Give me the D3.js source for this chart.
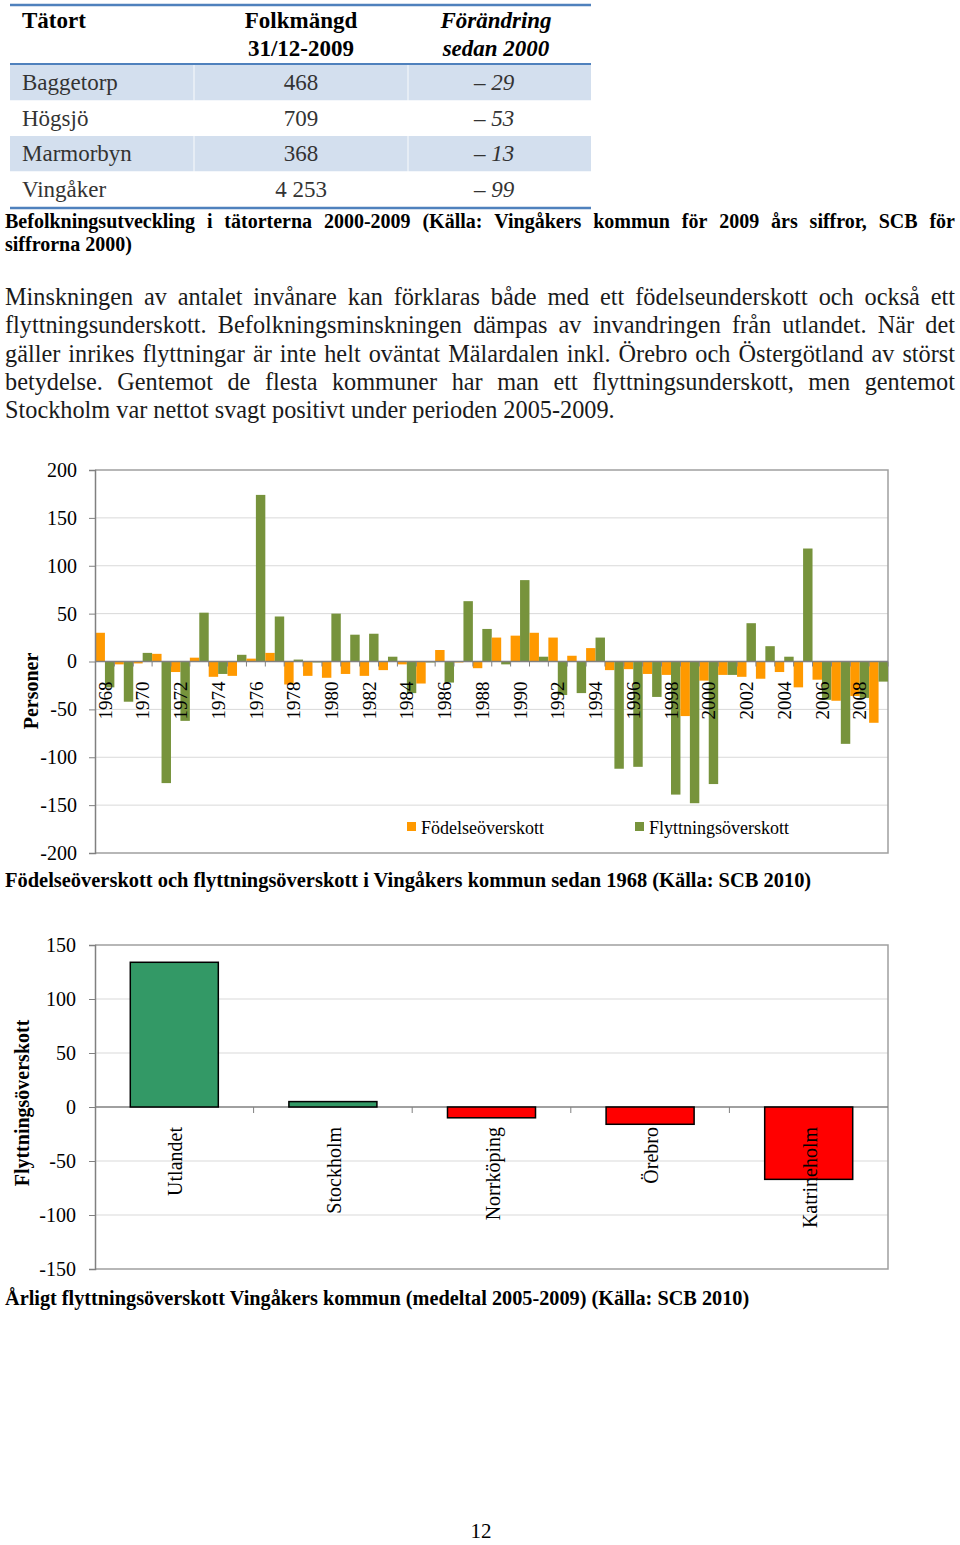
<!DOCTYPE html>
<html><head><meta charset="utf-8">
<script src="https://cdn.jsdelivr.net/npm/d3@7"></script>
<style>body{margin:0;background:#fff} svg{display:block}</style>
</head><body>
<svg id="page" width="960" height="1545"></svg>
<script>
// ---------- DATA ----------
const tableHeaders = [["Tätort"], ["Folkmängd", "31/12-2009"], ["Förändring", "sedan 2000"]];
const tableTowns = ["Baggetorp", "Högsjö", "Marmorbyn", "Vingåker"];
const tablePop = ["468", "709", "368", "4 253"];
const tableChange = ["– 29", "– 53", "– 13", "– 99"];
const tableCaption = ["Befolkningsutveckling i tätorterna 2000-2009 (Källa: Vingåkers kommun för 2009 års siffror, SCB för", "siffrorna 2000)"];
const bodyLines = [
  "Minskningen av antalet invånare kan förklaras både med ett födelseunderskott och också ett",
  "flyttningsunderskott. Befolkningsminskningen dämpas av invandringen från utlandet. När det",
  "gäller inrikes flyttningar är inte helt oväntat Mälardalen inkl. Örebro och Östergötland av störst",
  "betydelse. Gentemot de flesta kommuner har man ett flyttningsunderskott, men gentemot",
  "Stockholm var nettot svagt positivt under perioden 2005-2009."
];
const years = ["1968","1969","1970","1971","1972","1973","1974","1975","1976","1977","1978","1979","1980","1981","1982","1983","1984","1985","1986","1987","1988","1989","1990","1991","1992","1993","1994","1995","1996","1997","1998","1999","2000","2001","2002","2003","2004","2005","2006","2007","2008","2009"];
const birthSurplus = [30,-3,-2,8,-11,4,-16,-15,3,9,-24,-15,-17,-13,-15,-9,-3,-23,12,-1,-7,25,27,30,25,6,14,-9,-8,-13,-14,-57,-20,-14,-16,-18,-11,-27,-19,-41,-36,-64];
const migrationSurplus = [-27,-42,9,-127,-62,51,-13,7,174,47,2,-1,50,28,29,5,-33,-1,-22,63,34,-3,85,5,-35,-33,25,-112,-110,-37,-139,-148,-128,-14,40,16,5,118,-40,-86,-38,-21];
const yearLabels = ["1968","1970","1972","1974","1976","1978","1980","1982","1984","1986","1988","1990","1992","1994","1996","1998","2000","2002","2004","2006","2008"];
const series1 = ["Födelseöverskott", "Flyttningsöverskott"];
const chart1Ticks = [-200,-150,-100,-50,0,50,100,150,200];
const chart1Title = "Personer";
const chart1Caption = "Födelseöverskott och flyttningsöverskott i Vingåkers kommun sedan 1968 (Källa: SCB 2010)";
const destinations = ["Utlandet", "Stockholm", "Norrköping", "Örebro", "Katrineholm"];
const destValues = [134, 5, -10, -16, -67];
const chart2Ticks = [-150,-100,-50,0,50,100,150];
const chart2Title = "Flyttningsöverskott";
const chart2Caption = "Årligt flyttningsöverskott Vingåkers kommun (medeltal 2005-2009) (Källa: SCB 2010)";
const pageNumber = "12";

// ---------- HELPERS ----------
const SERIF = '"Liberation Serif", "Times New Roman", serif';
const svg = d3.select("#page");
const meas = svg.append("text").attr("x", -1000).attr("y", -1000).style("font-family", SERIF);
function measure(str, size, weight = "normal", style = "normal") {
  meas.style("font-size", size + "px").style("font-weight", weight).style("font-style", style).text(str);
  return meas.node().getComputedTextLength();
}
function fitSize(str, target, weight = "normal", style = "normal") {
  return 20 * target / measure(str, 20, weight, style);
}
function justify(g, str, x0, x1, y, size, weight = "normal", fill = "#000") {
  const words = str.split(" ");
  const widths = words.map(w => measure(w, size, weight));
  const gap = (x1 - x0 - d3.sum(widths)) / (words.length - 1);
  const t = g.append("text").attr("y", y).style("font-family", SERIF)
    .style("font-size", size + "px").style("font-weight", weight).attr("fill", fill);
  let x = x0;
  words.forEach((w, i) => { t.append("tspan").attr("x", x).text(w); x += widths[i] + gap; });
}
function plain(g, str, x, y, size, opts = {}) {
  return g.append("text").attr("x", x).attr("y", y).style("font-family", SERIF)
    .style("font-size", size + "px").style("font-weight", opts.weight || "normal")
    .style("font-style", opts.style || "normal").attr("text-anchor", opts.anchor || "start")
    .attr("fill", opts.fill || "#000").text(str);
}
const fmt = d => String(d);

// ---------- TABLE ----------
const tbl = svg.append("g");
const tblX0 = 10, tblX1 = 591;
const rowY = d3.scaleBand().domain(d3.range(tableTowns.length)).range([65, 207]).padding(0);
tbl.selectAll("rect.band").data(tableTowns).join("rect")
  .attr("x", tblX0).attr("width", tblX1 - tblX0)
  .attr("y", (d, i) => rowY(i)).attr("height", rowY.bandwidth())
  .attr("fill", (d, i) => i % 2 === 0 ? "#D3DFEE" : "#fff");
[194, 408].forEach(x => tbl.append("line").attr("x1", x).attr("x2", x).attr("y1", 65).attr("y2", 207)
  .attr("stroke", "#fff").attr("stroke-width", 1.5).attr("opacity", 0.6));
[[5, 2.5], [64, 2], [208, 2.5]].forEach(([y, w]) => tbl.append("line")
  .attr("x1", tblX0).attr("x2", tblX1).attr("y1", y).attr("y2", y)
  .attr("stroke", "#4F81BD").attr("stroke-width", w));
plain(tbl, tableHeaders[0][0], 22, 28, 23, { weight: "bold" });
plain(tbl, tableHeaders[1][0], 301, 28, 23, { weight: "bold", anchor: "middle" });
plain(tbl, tableHeaders[1][1], 301, 56, 23, { weight: "bold", anchor: "middle" });
plain(tbl, tableHeaders[2][0], 496, 28, 23, { weight: "bold", style: "italic", anchor: "middle" });
plain(tbl, tableHeaders[2][1], 496, 56, 23, { weight: "bold", style: "italic", anchor: "middle" });
tableTowns.forEach((t, i) => {
  const by = rowY(i) + rowY.bandwidth() / 2 + 7.5;
  plain(tbl, t, 22, by, 23, { fill: "#333" });
  plain(tbl, tablePop[i], 301, by, 23, { anchor: "middle", fill: "#333" });
  plain(tbl, tableChange[i], 494, by, 23, { anchor: "middle", style: "italic", fill: "#333" });
});

// table caption
const capSize = Math.min(20, fitSize("Befolkningsutveckling", 196, "bold"));
justify(svg, tableCaption[0], 5, 955, 228, capSize, "bold");
plain(svg, tableCaption[1], 5, 251, capSize, { weight: "bold" });

// ---------- BODY TEXT ----------
let bodySize = fitSize(bodyLines[4], 610);
const maxNat = d3.max(bodyLines.slice(0, 4), l => measure(l, bodySize));
if (maxNat > 945) bodySize *= 945 / maxNat;
const bodyY = [305, 333, 362, 390, 418];
bodyLines.forEach((l, i) => {
  if (i < bodyLines.length - 1) justify(svg, l, 5, 955, bodyY[i], bodySize, "normal", "#1a1a1a");
  else plain(svg, l, 5, bodyY[i], bodySize, { fill: "#1a1a1a" });
});

// ---------- CHART 1 ----------
(function () {
  const g = svg.append("g");
  const X0 = 95, X1 = 888, YT = 470, YB = 853;
  const x = d3.scaleBand().domain(years).range([X0 + 0.5, X1]).padding(0);
  const xs = d3.scaleBand().domain(series1).range([0, x.bandwidth()]).padding(0);
  const y = d3.scaleLinear().domain([-200, 200]).range([YB, YT]);
  const colors = { "Födelseöverskott": "#FF9900", "Flyttningsöverskott": "#77933C" };

  g.selectAll("line.grid").data(chart1Ticks.filter(t => t !== 0 && t !== -200 && t !== 200)).join("line")
    .attr("x1", X0).attr("x2", X1).attr("y1", d => y(d)).attr("y2", d => y(d))
    .attr("stroke", "#D9D9D9").attr("stroke-width", 1);
  g.append("path").attr("d", `M${X0},${YT}H${X1}V${YB}H${X0}`).attr("fill", "none")
    .attr("stroke", "#A0A0A0").attr("stroke-width", 1.5);

  const data = [];
  years.forEach((yr, i) => {
    data.push({ yr, s: series1[0], v: birthSurplus[i] });
    data.push({ yr, s: series1[1], v: migrationSurplus[i] });
  });
  g.selectAll("rect.bar").data(data).join("rect")
    .attr("x", d => x(d.yr) + xs(d.s)).attr("width", xs.bandwidth())
    .attr("y", d => Math.min(y(0), y(d.v))).attr("height", d => Math.abs(y(d.v) - y(0)))
    .attr("fill", d => colors[d.s]);

  const yAxis = d3.axisLeft(y).tickValues(chart1Ticks).tickSize(6).tickPadding(12).tickFormat(fmt);
  const ya = g.append("g").attr("transform", `translate(${X0},0)`).call(yAxis);
  ya.select(".domain").attr("stroke", "#808080").attr("stroke-width", 1.5);
  ya.selectAll(".tick line").attr("stroke", "#808080");
  ya.selectAll(".tick text").style("font-family", SERIF).style("font-size", "20px").attr("fill", "#000");

  g.append("line").attr("x1", X0).attr("x2", X1).attr("y1", y(0)).attr("y2", y(0))
    .attr("stroke", "#808080").attr("stroke-width", 1.5);
  g.selectAll("line.ctick").data(years.concat(["end"])).join("line")
    .attr("x1", (d, i) => i < years.length ? x(d) : X1).attr("x2", (d, i) => i < years.length ? x(d) : X1)
    .attr("y1", y(0)).attr("y2", y(0) + 5).attr("stroke", "#808080");

  g.selectAll("text.yr").data(yearLabels).join("text")
    .attr("transform", d => `translate(${x(d) + x.bandwidth() / 2},${y(0) + 20}) rotate(-90)`)
    .attr("text-anchor", "end").attr("dy", "0.35em")
    .style("font-family", SERIF).style("font-size", "19px").attr("fill", "#000").text(d => d);

  g.append("text").attr("transform", `translate(31,691) rotate(-90)`).attr("text-anchor", "middle")
    .attr("dy", "0.35em").style("font-family", SERIF).style("font-size", "20px").style("font-weight", "bold")
    .text(chart1Title);

  const leg = [{ s: series1[0], x: 407 }, { s: series1[1], x: 635 }];
  leg.forEach(l => {
    g.append("rect").attr("x", l.x).attr("y", 822).attr("width", 9).attr("height", 9).attr("fill", colors[l.s]);
    plain(g, l.s, l.x + 14, 834, 18);
  });

  const cs = Math.min(21, fitSize(chart1Caption, 807, "bold"));
  plain(svg, chart1Caption, 5, 887, cs, { weight: "bold" });
})();

// ---------- CHART 2 ----------
(function () {
  const g = svg.append("g");
  const X0 = 95, X1 = 888, YT = 945, YB = 1269;
  const x = d3.scaleBand().domain(destinations).range([X0, X1]).padding(0);
  const bw = x.bandwidth() * 0.555;
  const y = d3.scaleLinear().domain([-150, 150]).range([YB, YT]);

  g.selectAll("line.grid").data(chart2Ticks.filter(t => t !== 0 && t !== -150 && t !== 150)).join("line")
    .attr("x1", X0).attr("x2", X1).attr("y1", d => y(d)).attr("y2", d => y(d))
    .attr("stroke", "#D9D9D9").attr("stroke-width", 1);
  g.append("path").attr("d", `M${X0},${YT}H${X1}V${YB}H${X0}`).attr("fill", "none")
    .attr("stroke", "#A0A0A0").attr("stroke-width", 1.5);

  g.append("line").attr("x1", X0).attr("x2", X1).attr("y1", y(0)).attr("y2", y(0))
    .attr("stroke", "#808080").attr("stroke-width", 1.5);
  g.selectAll("line.ctick").data(destinations.slice(1)).join("line")
    .attr("x1", d => x(d)).attr("x2", d => x(d)).attr("y1", y(0)).attr("y2", y(0) + 6).attr("stroke", "#808080");

  g.selectAll("rect.bar").data(destinations.map((d, i) => ({ d, v: destValues[i] }))).join("rect")
    .attr("x", d => x(d.d) + (x.bandwidth() - bw) / 2).attr("width", bw)
    .attr("y", d => Math.min(y(0), y(d.v))).attr("height", d => Math.abs(y(d.v) - y(0)))
    .attr("fill", d => d.v >= 0 ? "#339966" : "#FF0000").attr("stroke", "#000").attr("stroke-width", 1.5);

  const yAxis = d3.axisLeft(y).tickValues(chart2Ticks).tickSize(6).tickPadding(13).tickFormat(fmt);
  const ya = g.append("g").attr("transform", `translate(${X0},0)`).call(yAxis);
  ya.select(".domain").attr("stroke", "#808080").attr("stroke-width", 1.5);
  ya.selectAll(".tick line").attr("stroke", "#808080");
  ya.selectAll(".tick text").style("font-family", SERIF).style("font-size", "20px").attr("fill", "#000");

  g.selectAll("text.cat").data(destinations).join("text")
    .attr("transform", d => `translate(${x(d) + x.bandwidth() / 2 + 1},${y(0) + 20}) rotate(-90)`)
    .attr("text-anchor", "end").attr("dy", "0.35em")
    .style("font-family", SERIF).style("font-size", "20px").attr("fill", "#000").text(d => d);

  g.append("text").attr("transform", `translate(22,1103) rotate(-90)`).attr("text-anchor", "middle")
    .attr("dy", "0.35em").style("font-family", SERIF).style("font-size", "20px").style("font-weight", "bold")
    .text(chart2Title);

  const cs = Math.min(21, fitSize(chart2Caption, 745, "bold"));
  plain(svg, chart2Caption, 5, 1305, cs, { weight: "bold" });
})();

plain(svg, pageNumber, 481, 1538, 21, { anchor: "middle" });
meas.remove();
</script>
</body></html>
